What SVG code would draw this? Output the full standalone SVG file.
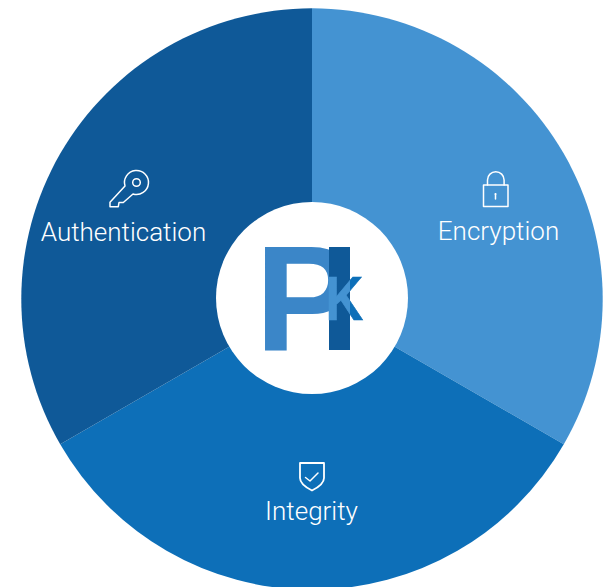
<svg xmlns="http://www.w3.org/2000/svg" width="605" height="587" viewBox="0 0 605 587">
<style>
.lbl{font-family:Roboto,"Liberation Sans",sans-serif;font-weight:300;font-size:26px;fill:#fff;text-anchor:middle}
.ico{fill:none;stroke:#fff;stroke-width:1.5;stroke-linejoin:round;stroke-linecap:round}
.logo{font-family:"Liberation Sans",Arial,sans-serif;font-weight:700}
</style>
<defs><linearGradient id="kfill" gradientUnits="userSpaceOnUse" x1="0" y1="0" x2="60" y2="0"><stop offset=".492" stop-color="#4493d2"/><stop offset=".492" stop-color="#0d6fb8"/></linearGradient></defs>
<rect width="605" height="587" fill="#fff"/>
<g id="encryption">
<path d="M312 299V8.300A290.700 290.700 0 0 1 563.800 444.300Z" fill="#4493d2"/>
<g class="ico"><rect x="483.500" y="185" width="24.500" height="21.500"/><path d="M487.500 185V180a8.300 8.300 0 0 1 16.600 0V185"/><path d="M495.500 194v5"/></g>
<circle cx="495.500" cy="194" r="1" fill="#fff"/>
<text class="lbl" x="498.500" y="240">Encryption</text>
</g>
<g id="integrity">
<path d="M312 299L563.800 444.300A290.700 290.700 0 0 1 60.200 444.300Z" fill="#0d6fb8"/>
<path class="ico" style="stroke-width:1.800" d="M300 463H324V478C324 484 317 488 312 490.500C307 488 300 484 300 478Z"/>
<path class="ico" d="M305.500 477.500L310 481L318 473"/>
<text class="lbl" x="311.500" y="520">Integrity</text>
</g>
<g id="authentication">
<path d="M312 299L60.200 444.300A290.700 290.700 0 0 1 312 8.300Z" fill="#0f5998"/>
<g class="ico"><path d="M125 186A12 12 0 1 1 133 194L123.300 202.500H119L118.300 206.700H110V202.300Z"/><circle cx="136.500" cy="182.500" r="3.800"/></g>
<text class="lbl" x="123.500" y="241">Authentication</text>
</g>
<g id="logo">
<circle cx="312" cy="298" r="96" fill="#fff"/>
<text class="logo" x="255" y="349.500" font-size="150" fill="#3b86c8">P</text>
<rect x="329" y="247" width="21" height="103" fill="#0f5998"/>
<text class="logo" transform="translate(325.500 320) scale(.83 1)" font-size="63" fill="url(#kfill)" stroke="url(#kfill)" stroke-width=".6">K</text>
</g>
</svg>
